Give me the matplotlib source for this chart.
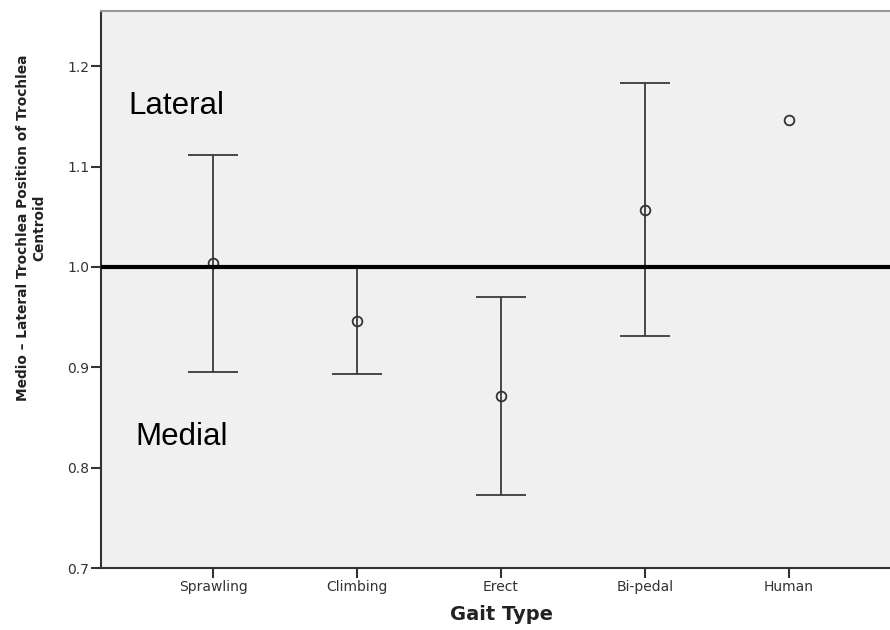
import numpy as np
from matplotlib import pyplot as plt

gaits = ["Sprawling", "Climbing", "Erect", "Bi-pedal", "Human"]
means = [1.004, 0.946, 0.871, 1.057, 1.146]
ci_low = [0.895, 0.893, 0.773, 0.931, np.nan]
ci_high = [1.112, 0.999, 0.970, 1.183, np.nan]
yticks = [0.7, 0.8, 0.9, 1.0, 1.1, 1.2]

fig = plt.figure(figsize=(8.9, 6.3), dpi=100)
# axes runs a little past the right edge of the picture, like the original crop
ax = fig.add_axes([101 / 890, (630 - 568) / 630, 800 / 890, 557 / 630])
ax.set_facecolor("#f0f0f0")

x = np.arange(1, len(gaits) + 1)
means = np.array(means)
lo = means - np.array(ci_low)
hi = np.array(ci_high) - means

ax.errorbar(x, means, yerr=[lo, hi], fmt="none", ecolor="#3a3a3a",
            elinewidth=1.3, capsize=18, capthick=1.3, zorder=2)
ax.plot(x, means, "o", markersize=7, markerfacecolor="none",
        markeredgecolor="#333333", markeredgewidth=1.3, zorder=3)

ax.axhline(1.0, color="black", linewidth=3, zorder=4)

ax.text(0.41, 1.1526, "Lateral", fontsize=22.5, family="Liberation Sans",
        ha="left", va="baseline")
ax.text(0.458, 0.8226, "Medial", fontsize=22.5, family="Liberation Sans",
        ha="left", va="baseline")

ax.set_xlim(0.222, 5.778)
ax.set_ylim(0.7, 1.255)
ax.set_xticks(x)
ax.set_xticklabels(gaits)
ax.set_yticks(yticks)
ax.set_yticklabels([f"{v:.1f}" for v in yticks])
ax.tick_params(axis="both", direction="out", length=7, width=1.5,
               color="#333333", labelsize=10, labelcolor="#333333", pad=1.5)

for side in ["left", "bottom"]:
    ax.spines[side].set_color("#333333")
    ax.spines[side].set_linewidth(1.5)
ax.spines["top"].set_color("#999999")
ax.spines["top"].set_linewidth(1.5)
ax.spines["right"].set_visible(False)

ax.set_xlabel("Gait Type", fontsize=14, fontweight="bold", color="#222222",
              labelpad=8)
ax.set_ylabel("Medio \u2013 Lateral Trochlea Position of Trochlea\nCentroid",
              fontsize=9.9, fontweight="bold", color="#222222",
              linespacing=1.25)
ax.yaxis.set_label_coords(-0.068, 0.61)

fig.savefig("out.png", dpi=100)
